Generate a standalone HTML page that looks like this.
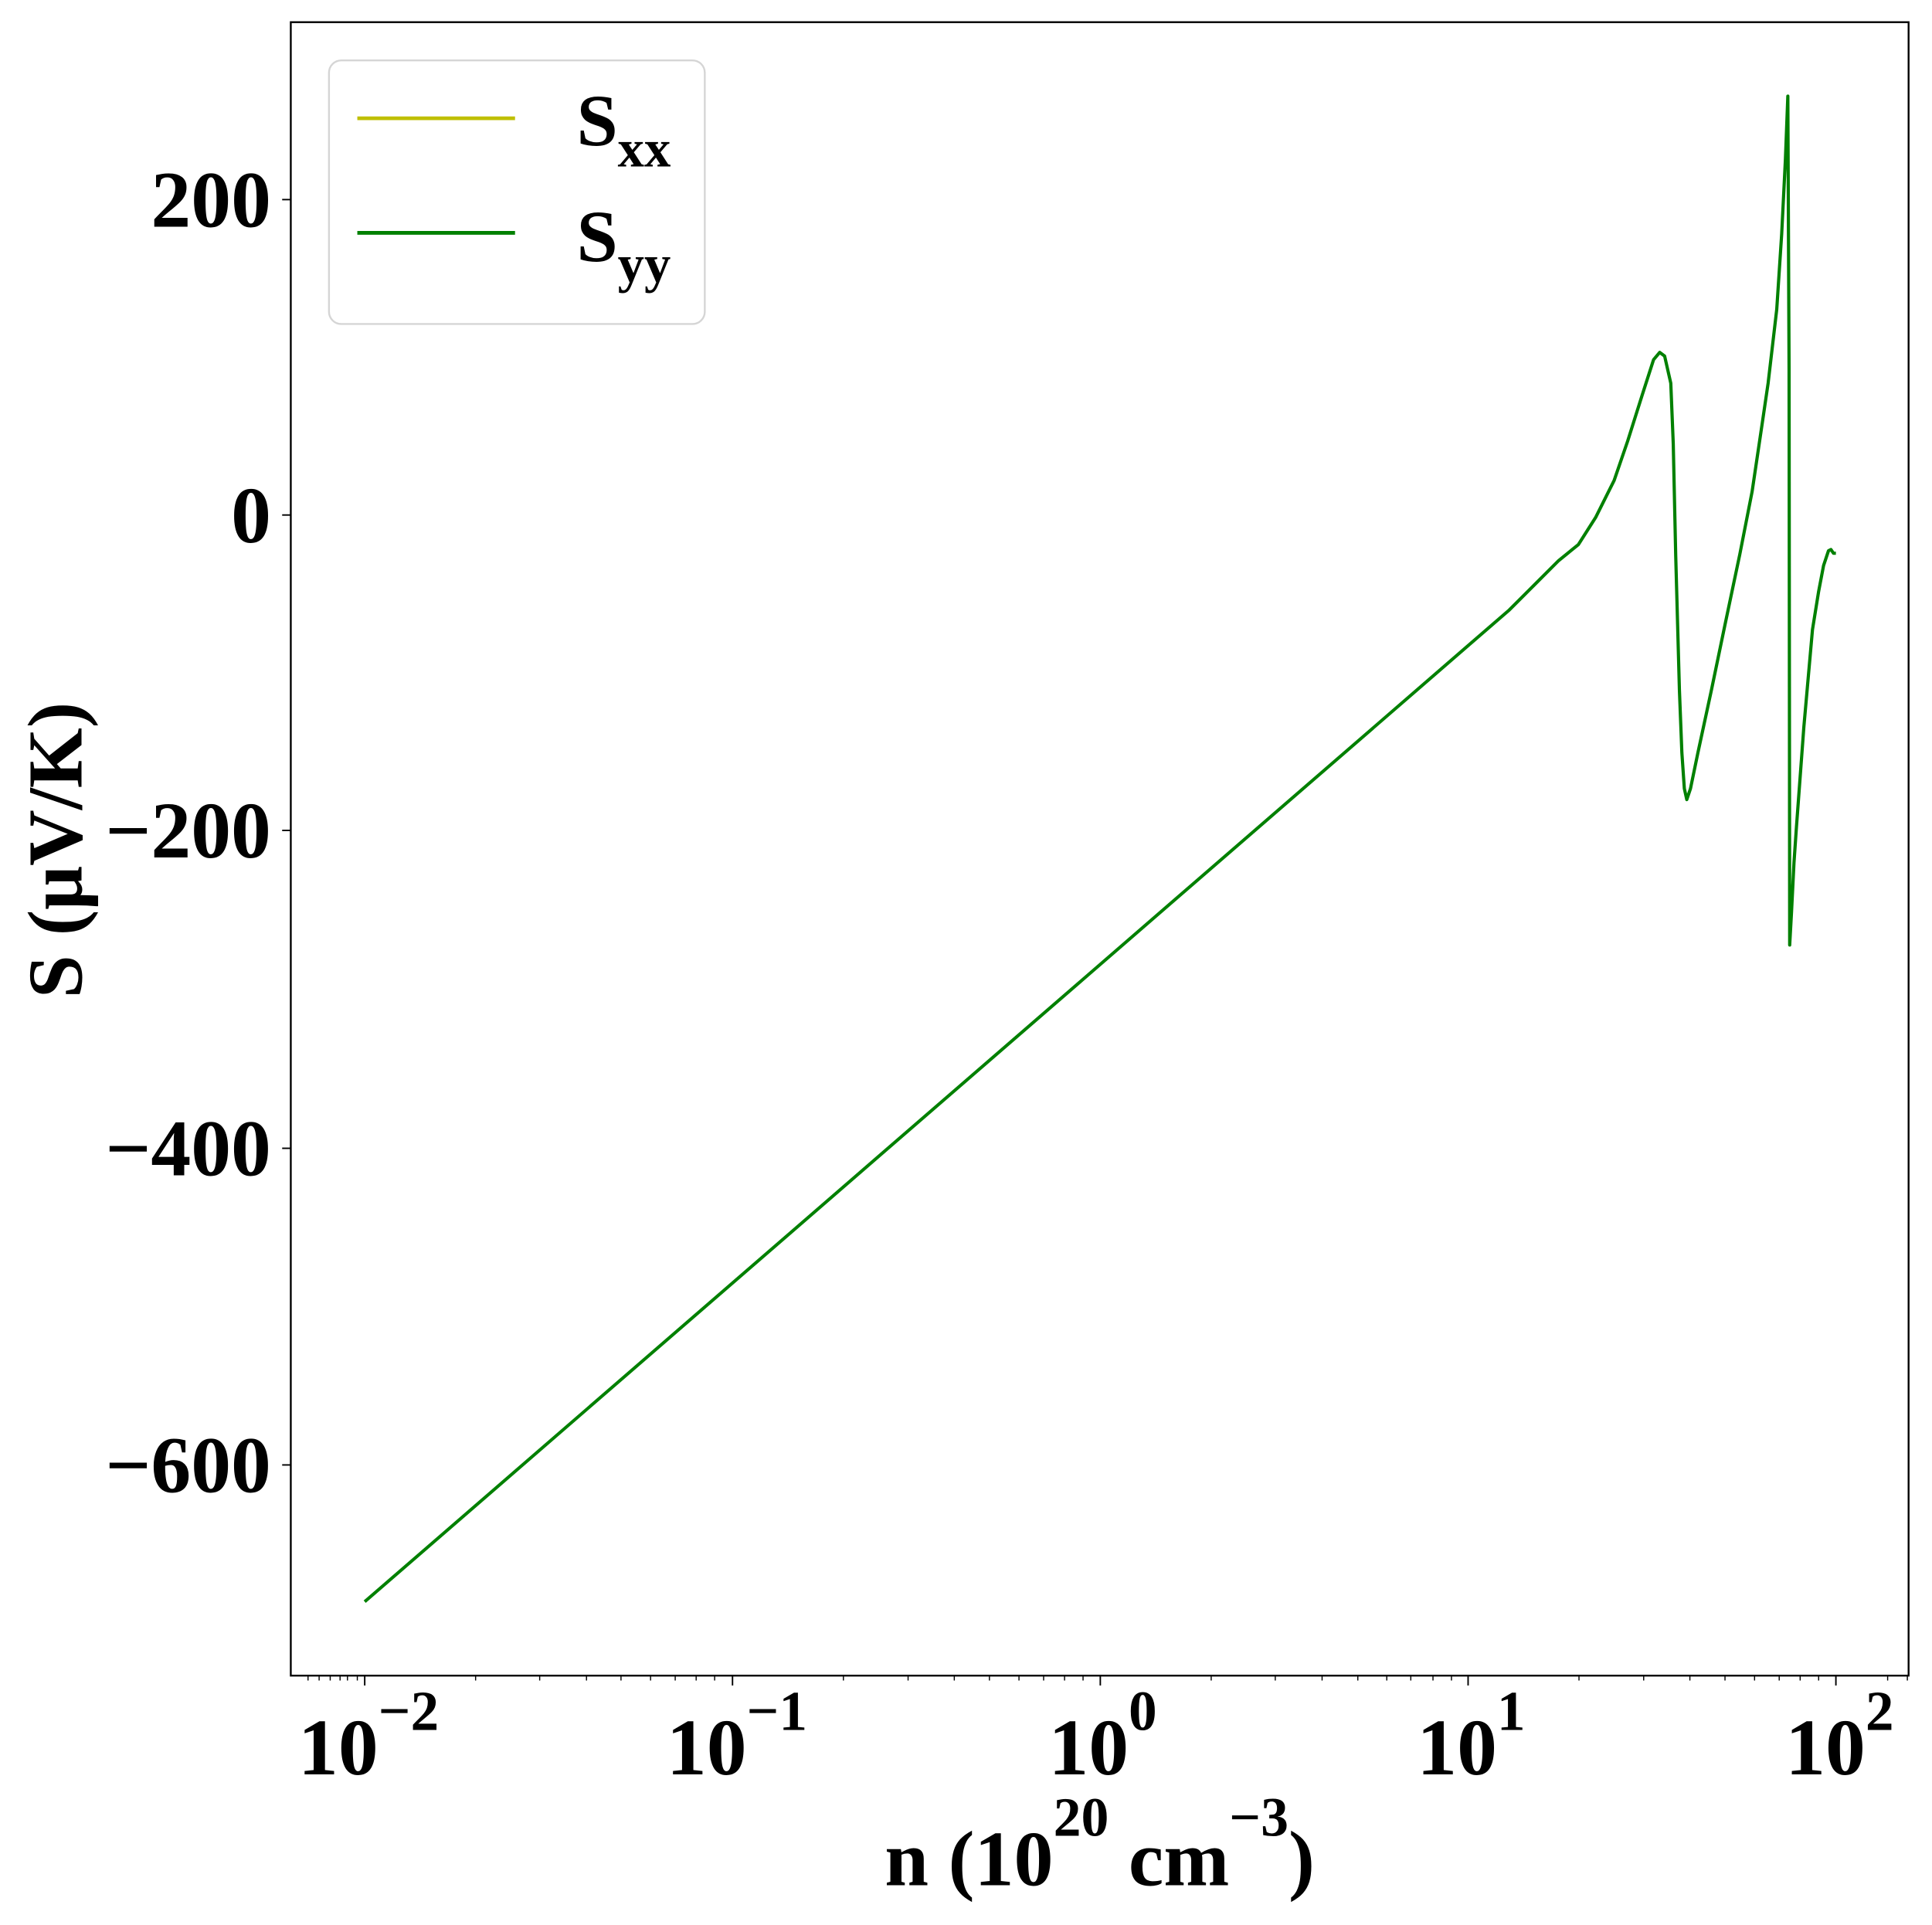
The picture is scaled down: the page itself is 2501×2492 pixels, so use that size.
<!DOCTYPE html>
<html><head><meta charset="utf-8"><style>html,body{margin:0;padding:0;background:#fff}svg{display:block}</style></head>
<body>
<svg width="2501" height="2492" viewBox="0 0 1568 1562.4" preserveAspectRatio="none" xmlns="http://www.w3.org/2000/svg" font-family="Liberation Serif, serif" font-weight="bold">
<rect x="0" y="0" width="1568" height="1562.4" fill="#fff"/>
<polyline fill="none" stroke="#008000" stroke-width="2.6" stroke-linejoin="round" points="296,1300 1225,495 1245,475 1265,455 1281,442 1295,420 1310,390 1321,358 1333,320 1342,292 1347,286 1351,289 1356,311 1358,360 1360,451 1363,560 1365,611 1367,640 1369,649 1372,640 1378,611 1389,560 1400,507 1412,450 1422,399 1430,345 1435,311 1442,251 1446,190 1449,130 1451,78 1452,300 1452.5,767 1454,740 1456,700 1458,671 1464,590 1471,511 1476,480 1480,459 1484,447 1486,446 1488,449 1490,449"/>
<rect x="236" y="18" width="1313" height="1342" fill="none" stroke="#000" stroke-width="1.5"/>
<g stroke="#000" stroke-width="1.2">
<line x1="229" y1="162" x2="236" y2="162"/><line x1="229" y1="418" x2="236" y2="418"/><line x1="229" y1="674" x2="236" y2="674"/><line x1="229" y1="932" x2="236" y2="932"/><line x1="229" y1="1189" x2="236" y2="1189"/>
<line x1="296" y1="1360" x2="296" y2="1368"/><line x1="594.5" y1="1360" x2="594.5" y2="1368"/><line x1="893" y1="1360" x2="893" y2="1368"/><line x1="1191.5" y1="1360" x2="1191.5" y2="1368"/><line x1="1490" y1="1360" x2="1490" y2="1368"/>
</g>
<g stroke="#000" stroke-width="0.9">
<path d="M250,1360v4M259,1360v4M268,1360v4M276,1360v4M282,1360v4M290,1360v4
M386,1360v4M438,1360v4M476,1360v4M504,1360v4M528,1360v4M548,1360v4M565,1360v4M580,1360v4
M684.5,1360v4M737,1360v4M774.5,1360v4M803,1360v4M827,1360v4M847,1360v4M864,1360v4M879,1360v4
M983,1360v4M1035,1360v4M1073,1360v4M1102,1360v4M1125.5,1360v4M1145,1360v4M1163,1360v4M1178,1360v4
M1281.5,1360v4M1334,1360v4M1371.5,1360v4M1400,1360v4M1424,1360v4M1444,1360v4M1461,1360v4M1476,1360v4
M1532,1360v4M1548,1360v4" fill="none"/>
</g>
<g font-size="65" text-anchor="end">
<text x="220" y="184">200</text>
<text x="220" y="440">0</text>
<text x="220" y="696">−200</text>
<text x="220" y="954">−400</text>
<text x="220" y="1211">−600</text>
</g>
<g font-size="65">
<text x="242" y="1440">10<tspan font-size="46" dy="-36">−2</tspan></text>
<text x="541" y="1440">10<tspan font-size="46" dy="-36">−1</tspan></text>
<text x="851" y="1440">10<tspan font-size="46" dy="-36">0</tspan></text>
<text x="1150" y="1440">10<tspan font-size="46" dy="-36">1</tspan></text>
<text x="1449" y="1440">10<tspan font-size="46" dy="-36">2</tspan></text>
</g>
<text x="718" y="1530" font-size="64">n (10<tspan font-size="45" dy="-40">20</tspan><tspan dy="40"> cm</tspan><tspan font-size="45" dy="-40">−3</tspan><tspan dy="40">)</tspan></text>
<text transform="translate(66,690) rotate(-90)" font-size="63" text-anchor="middle">S (μV/K)</text>
<rect x="267" y="49" width="305" height="214" rx="10" fill="#fff" stroke="#d5d5d5" stroke-width="1.5"/>
<line x1="290" y1="96" x2="418" y2="96" stroke="#bfbf00" stroke-width="3"/>
<line x1="290" y1="189" x2="418" y2="189" stroke="#008000" stroke-width="3"/>
<text x="468" y="118" font-size="60">S<tspan font-size="43" dy="17">xx</tspan></text>
<text x="468" y="212" font-size="60">S<tspan font-size="43" dy="17">yy</tspan></text>
</svg>
</body></html>
